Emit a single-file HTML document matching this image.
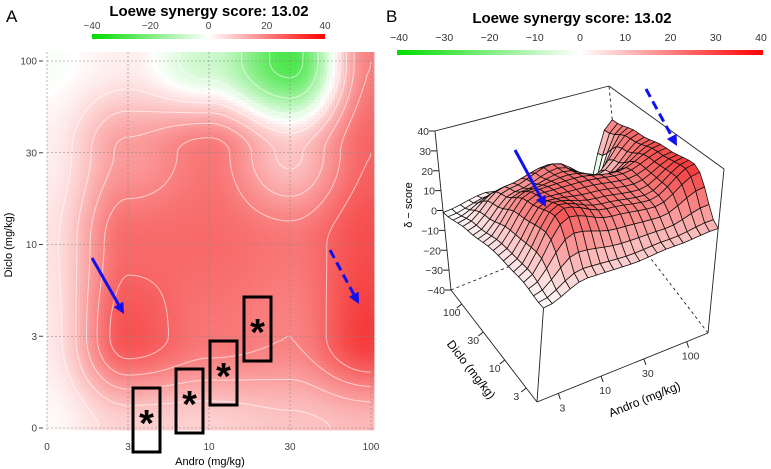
<!DOCTYPE html>
<html><head><meta charset="utf-8"><style>
body{margin:0;background:#fff;width:771px;height:469px;overflow:hidden;font-family:"Liberation Sans",sans-serif}
svg{position:absolute;left:0;top:0}
</style></head><body>
<svg id="fig" width="771" height="469" xmlns="http://www.w3.org/2000/svg" font-family="Liberation Sans, DejaVu Sans, sans-serif">
<defs>
<linearGradient id="cbar" x1="0" x2="1"><stop offset="0" stop-color="#00dc00"/><stop offset="0.5" stop-color="#ffffff"/><stop offset="1" stop-color="#ff0000"/></linearGradient>
</defs>
<text x="6" y="22" font-size="17">A</text>
<text x="386" y="22" font-size="17">B</text>
<g id="panelA"></g>
<g id="panelB"></g>
</svg>
<script>
// Shared data: rows = Diclo levels, cols = Andro levels
const andro = ["0","3","10","30","100"];
const diclo = ["0","3","10","30","100"];
const score0 = [0, 7, 7, 9, 11];        // Diclo 0
const score3 = [3, 28, 22, 20, 32];     // Diclo 3
const score10 = [4, 24, 24, 22, 29];    // Diclo 10
const score30 = [2, 16, 22, 9, 25];     // Diclo 30
const score100 = [-1, 2, -8, -28, 20];  // Diclo 100
const cbarTicksA = [-40, -20, 0, 20, 40];
const cbarTicksB = [-40, -30, -20, -10, 0, 10, 20, 30, 40];
const zTicks = [40, 30, 20, 10, 0, -10, -20, -30, -40];
const title = "Loewe synergy score: 13.02";

const grid = [score0, score3, score10, score30, score100];
const NS = "http://www.w3.org/2000/svg";
function mk(tag, attrs, parent, txt){const e=document.createElementNS(NS,tag);for(const k in attrs)e.setAttribute(k,attrs[k]);if(txt!==undefined)e.textContent=txt;parent.appendChild(e);return e;}
function sm(t){return (1-Math.cos(Math.PI*t))/2;}
function sample(ai, di){
  const n=grid.length-1;
  ai=Math.max(0,Math.min(n,ai)); di=Math.max(0,Math.min(n,di));
  const a0=Math.min(n-1,Math.floor(ai)), d0=Math.min(n-1,Math.floor(di));
  const ta=sm(ai-a0), td=sm(di-d0);
  const v00=grid[d0][a0],v01=grid[d0][a0+1],v10=grid[d0+1][a0],v11=grid[d0+1][a0+1];
  return (v00*(1-ta)+v01*ta)*(1-td)+(v10*(1-ta)+v11*ta)*td;
}
function color(v){
  const t=Math.max(-1,Math.min(1,v/40));
  let r,g,b;
  if(t>=0){r=Math.round(255-12*t);g=Math.round(255*(1-t)*0.98+10*t);b=g;}
  else{const s=-t;r=Math.round(255*(1-s));g=Math.round(255-35*s);b=Math.round(255*(1-s));}
  return `rgb(${r},${g},${b})`;
}

// ---------- Panel A ----------
const A=document.getElementById('panelA');
const ax0=47, axStep=81, ay0=428, ayStep=-91.75;
const xA=i=>ax0+i*axStep, yA=j=>ay0+j*ayStep;
mk('text',{x:209,y:16,'font-size':15,'font-weight':'bold','text-anchor':'middle'},A,title);
const cbA=mk('rect',{x:92,y:34,width:233,height:5,fill:'url(#cbar)'},A);

cbarTicksA.forEach(v=>{const t=mk('text',{x:92+(v+40)/80*233,y:29,'font-size':10,'text-anchor':'middle',fill:'#444'},A,v<0?'\u2212'+(-v):String(v));});
const hm=mk('g',{},A);
const cs=3;
for(let px=47;px<374;px+=cs){for(let py=52;py<430;py+=cs){
  const ai=(px+cs/2-ax0)/axStep, di=(py+cs/2-ay0)/ayStep;
  mk('rect',{x:px,y:py,width:cs+0.4,height:cs+0.4,fill:color(sample(ai,di))},hm);
}}
const cl=mk('g',{stroke:'rgba(255,255,255,0.6)','stroke-width':1,fill:'none'},A);

[-25,-15,-5,5,10,15,20,25].forEach(lv=>{
  for(let px=47;px<371;px+=4){for(let py=52;py<428;py+=4){
    const f=(x,y)=>sample((x-ax0)/axStep,(y-ay0)/ayStep)-lv;
    const a=f(px,py),b=f(px+4,py),c=f(px+4,py+4),d=f(px,py+4);
    const pts=[];
    if((a>0)!=(b>0))pts.push([px+4*a/(a-b),py]);
    if((b>0)!=(c>0))pts.push([px+4,py+4*b/(b-c)]);
    if((d>0)!=(c>0))pts.push([px+4*d/(d-c),py+4]);
    if((a>0)!=(d>0))pts.push([px,py+4*a/(a-d)]);
    if(pts.length>=2)mk('line',{x1:pts[0][0],y1:pts[0][1],x2:pts[1][0],y2:pts[1][1]},cl);
  }}
});
const gl=mk('g',{stroke:'#888','stroke-width':0.6,'stroke-dasharray':'2,2'},A);
andro.forEach((l,i)=>{mk('line',{x1:xA(i),y1:52,x2:xA(i),y2:430},gl);
  const t=mk('text',{x:xA(i),y:450,'font-size':10,'text-anchor':'middle',fill:'#444'},A,l);});
diclo.forEach((l,j)=>{mk('line',{x1:47,y1:yA(j),x2:374,y2:yA(j)},gl);
  const t=mk('text',{x:37,y:yA(j)+3.5,'font-size':10,'text-anchor':'end',fill:'#444'},A,l);
  mk('line',{x1:39,y1:yA(j),x2:43,y2:yA(j),stroke:'#444'},A);});
mk('text',{x:210,y:465,'font-size':11,'text-anchor':'middle'},A,'Andro  (mg/kg)');
mk('text',{x:0,y:0,'font-size':11,'text-anchor':'middle',transform:'translate(12,245) rotate(-90)'},A,'Diclo  (mg/kg)');
const boxes=[[133,388],[176,369],[210,341],[244,297]];
boxes.forEach(b=>{const g=mk('g',{},A);
  mk('rect',{x:b[0],y:b[1],width:27,height:64,fill:'none',stroke:'#000','stroke-width':3},g);
  mk('text',{x:b[0]+13.5,y:b[1]+48,'font-size':38,'text-anchor':'middle','font-weight':'bold'},g,'*');});
function arrow(p,x1,y1,x2,y2,dash,name){const g=mk('g',{},p);
  const ang=Math.atan2(y2-y1,x2-x1),L=11;
  const bx=x2-L*Math.cos(ang),by=y2-L*Math.sin(ang);
  mk('line',{x1:x1,y1:y1,x2:bx,y2:by,stroke:'#1010f0','stroke-width':3,'stroke-dasharray':dash?'9,5':'none'},g);
  const px=-Math.sin(ang)*5.5,py=Math.cos(ang)*5.5;
  mk('polygon',{points:`${x2},${y2} ${bx+px},${by+py} ${bx-px},${by-py}`,fill:'#1010f0'},g);}
arrow(A,92,258,124,314,false,'solid-arrow');
arrow(A,330,250,359,304,true,'dashed-arrow');

// ---------- Panel B ----------
const B=document.getElementById('panelB');
mk('text',{x:572,y:23,'font-size':15,'font-weight':'bold','text-anchor':'middle'},B,title);
const cbB=mk('rect',{x:397,y:50,width:366,height:5,fill:'url(#cbar)'},B);

cbarTicksB.forEach(v=>{const t=mk('text',{x:399+(v+40)/80*362,y:41,'font-size':10.5,'text-anchor':'middle',fill:'#333'},B,v<0?'\u2212'+(-v):String(v));});
const C={'000':[537,402],'100':[708,333],'010':[451,290],'110':[622,221],
         '001':[550,214],'101':[724,169],'011':[435,131],'111':[609,86]};
function P(a,d,z){const r=[0,0];
  for(const ka of [0,1])for(const kd of [0,1])for(const kz of [0,1]){
    const w=(ka?a:1-a)*(kd?d:1-d)*(kz?z:1-z);const c=C[''+ka+kd+kz];r[0]+=w*c[0];r[1]+=w*c[1];}
  return r;}
const zf=v=>(v+40)/80;
const box=mk('g',{stroke:'#222','stroke-width':0.9,fill:'none'},B);
const ln=(p,q,dash)=>mk('line',{x1:p[0],y1:p[1],x2:q[0],y2:q[1],'stroke-dasharray':dash?'3,3':'none'},box);
ln(C['010'],C['110'],true);ln(C['100'],C['110'],true);ln(C['110'],C['111'],true);
ln(C['011'],C['111']);ln(C['111'],C['101']);ln(C['010'],C['011']);ln(C['100'],C['101']);
ln(C['000'],C['100']);ln(C['000'],C['010']);
const N=20, n=grid.length-1;
const quads=[];
for(let i=0;i<N;i++)for(let j=0;j<N;j++)quads.push([i,j]);
quads.sort((p,q)=>(q[0]+q[1])-(p[0]+p[1]));
const sg=mk('g',{stroke:'#111','stroke-width':0.8,'stroke-linejoin':'round'},B);
quads.forEach(([i,j])=>{
  const pts=[[i,j],[i+1,j],[i+1,j+1],[i,j+1]].map(([a,d])=>{const v=sample(a/N*n,d/N*n);return P(a/N,d/N,zf(v));});
  const v=sample((i+0.5)/N*n,(j+0.5)/N*n);
  mk('polygon',{points:pts.map(p=>p.join(',')).join(' '),fill:color(v)},sg);
});
const fv=P(0,0,zf(sample(0,0)));ln(C['000'],fv);
zTicks.forEach(v=>{const p=P(0,1,zf(v));
  mk('line',{x1:p[0]-6,y1:p[1],x2:p[0],y2:p[1],stroke:'#222'},B);
  const t=mk('text',{x:p[0]-6,y:p[1]+4,'font-size':10.5,'text-anchor':'end',fill:'#333'},B,v<0?'\u2212'+(-v):String(v));});
mk('text',{x:0,y:0,'font-size':11,'text-anchor':'middle',transform:'translate(412,205) rotate(-90)'},B,'\u03b4 \u2212 score');
[['3',0.125],['10',0.375],['30',0.625],['100',0.875]].forEach(([l,f])=>{
  const p=P(f,0,0);mk('line',{x1:p[0],y1:p[1],x2:p[0]+2,y2:p[1]+6,stroke:'#222'},B);
  const t=mk('text',{x:p[0]+4,y:p[1]+18,'font-size':10.5,'text-anchor':'middle',fill:'#333'},B,l);
  const q=P(0,f,0);mk('line',{x1:q[0],y1:q[1],x2:q[0]-5,y2:q[1]+4,stroke:'#222'},B);
  const t2=mk('text',{x:q[0]-10,y:q[1]+12,'font-size':10.5,'text-anchor':'middle',fill:'#333'},B,l);});
mk('text',{x:0,y:0,'font-size':12,'text-anchor':'middle',transform:'translate(646,403) rotate(-22)'},B,'Andro  (mg/kg)');
mk('text',{x:0,y:0,'font-size':12,'text-anchor':'middle',transform:'translate(468,372) rotate(52)'},B,'Diclo  (mg/kg)');
arrow(B,515,150,546,207,false,'solid-arrow-3d');
arrow(B,646,89,677,146,true,'dashed-arrow-3d');
</script>
</body></html>
